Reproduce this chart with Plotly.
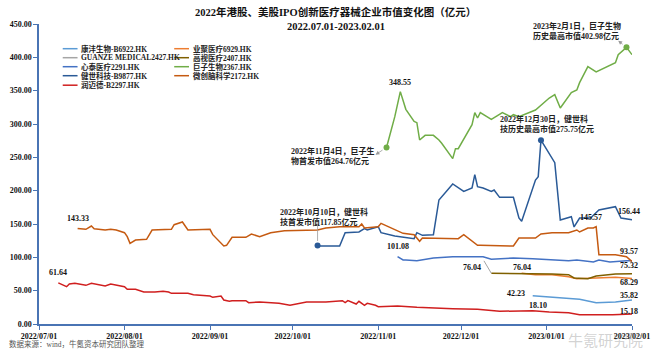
import plotly.graph_objects as go

# ---------------- data ----------------
names = ["康沣生物-B6922.HK", "业聚医疗6929.HK", "GUANZE MEDICAL2427.HK", "高视医疗2407.HK",
         "心泰医疗2291.HK", "巨子生物2367.HK", "健世科技-B9877.HK", "微创脑科学2172.HK", "润迈德-B2297.HK"]
colors = ["#5B9BD5", "#ED7D31", "#A5A5A5", "#7F6000", "#4472C4", "#70AD47", "#2A5A97", "#C55A11", "#D01F1F"]

kangfeng = [("2022-12-27", 42.23), ("2023-01-03", 40), ("2023-01-09", 38), ("2023-01-13", 37),
            ("2023-01-19", 32), ("2023-01-26", 33), ("2023-02-01", 35.82)]
yeju = [("2022-12-23", 76.04), ("2022-12-28", 74), ("2023-01-03", 74), ("2023-01-09", 71),
        ("2023-01-12", 68), ("2023-01-19", 69), ("2023-01-26", 70), ("2023-02-01", 68.29)]
guanze = []
gaoshi = [("2022-12-12", 76.04), ("2022-12-15", 76), ("2022-12-20", 76), ("2022-12-27", 76),
          ("2023-01-03", 75), ("2023-01-09", 74), ("2023-01-11", 69), ("2023-01-16", 68),
          ("2023-01-19", 72), ("2023-01-26", 75), ("2023-02-01", 75.32)]
xintai = [("2022-11-08", 101.08), ("2022-11-10", 96), ("2022-11-11", 96), ("2022-11-15", 95),
          ("2022-11-21", 99), ("2022-11-28", 101), ("2022-12-02", 101), ("2022-12-09", 101),
          ("2022-12-12", 97), ("2022-12-15", 98), ("2022-12-20", 99), ("2022-12-27", 98),
          ("2023-01-03", 96), ("2023-01-09", 95), ("2023-01-12", 96), ("2023-01-18", 93),
          ("2023-01-20", 96), ("2023-01-24", 93), ("2023-01-30", 95), ("2023-02-01", 95)]
juzi = [("2022-11-04", 264.76), ("2022-11-07", 311), ("2022-11-09", 348.55), ("2022-11-10", 336),
        ("2022-11-11", 322), ("2022-11-14", 304), ("2022-11-15", 302), ("2022-11-16", 276),
        ("2022-11-18", 283), ("2022-11-21", 283), ("2022-11-23", 276), ("2022-11-24", 271),
        ("2022-11-28", 248), ("2022-11-29", 263), ("2022-11-30", 263), ("2022-12-05", 299),
        ("2022-12-06", 317), ("2022-12-07", 309), ("2022-12-08", 317), ("2022-12-12", 307),
        ("2022-12-16", 317), ("2022-12-19", 311), ("2022-12-20", 314), ("2022-12-22", 311),
        ("2022-12-28", 321), ("2023-01-02", 339), ("2023-01-04", 344), ("2023-01-06", 324),
        ("2023-01-10", 347), ("2023-01-12", 351), ("2023-01-13", 362), ("2023-01-16", 386),
        ("2023-01-19", 378), ("2023-01-26", 392), ("2023-01-27", 404), ("2023-01-30", 415),
        ("2023-02-01", 404)]
jianshi = [("2022-10-10", 117.85), ("2022-10-11", 117), ("2022-10-18", 117), ("2022-10-20", 137),
           ("2022-10-25", 138), ("2022-10-27", 143), ("2022-10-28", 141), ("2022-11-01", 146),
           ("2022-11-02", 137), ("2022-11-07", 132), ("2022-11-14", 128), ("2022-11-15", 137),
           ("2022-11-17", 133), ("2022-11-21", 134), ("2022-11-23", 186), ("2022-11-28", 210),
           ("2022-12-02", 199), ("2022-12-05", 204), ("2022-12-06", 224), ("2022-12-07", 206),
           ("2022-12-09", 204), ("2022-12-12", 199), ("2022-12-13", 201), ("2022-12-15", 190),
           ("2022-12-20", 190), ("2022-12-22", 159), ("2022-12-23", 154), ("2022-12-28", 216),
           ("2022-12-29", 221), ("2022-12-30", 275.75), ("2023-01-04", 242), ("2023-01-06", 156),
           ("2023-01-10", 161), ("2023-01-11", 145.57), ("2023-01-13", 159), ("2023-01-17", 159),
           ("2023-01-20", 171), ("2023-01-26", 176), ("2023-01-28", 159), ("2023-02-01", 156.44)]
weichuang = [("2022-07-15", 143.33), ("2022-07-18", 142), ("2022-07-20", 147), ("2022-07-21", 143),
             ("2022-07-25", 141), ("2022-07-27", 142), ("2022-07-29", 141), ("2022-08-01", 137),
             ("2022-08-02", 131), ("2022-08-03", 121), ("2022-08-05", 126), ("2022-08-09", 127),
             ("2022-08-11", 141), ("2022-08-17", 141), ("2022-08-18", 142), ("2022-08-19", 149),
             ("2022-08-22", 153), ("2022-08-24", 141), ("2022-09-01", 142), ("2022-09-02", 134),
             ("2022-09-06", 117), ("2022-09-07", 118), ("2022-09-09", 130), ("2022-09-14", 130),
             ("2022-09-16", 135), ("2022-09-19", 131), ("2022-09-23", 137), ("2022-09-28", 140),
             ("2022-10-10", 141), ("2022-10-13", 144), ("2022-10-18", 146), ("2022-10-25", 146),
             ("2022-10-26", 150), ("2022-10-27", 144), ("2022-11-01", 146), ("2022-11-02", 151),
             ("2022-11-07", 141), ("2022-11-10", 136), ("2022-11-14", 134), ("2022-11-16", 124),
             ("2022-11-17", 129), ("2022-11-30", 128), ("2022-12-02", 134), ("2022-12-07", 118),
             ("2022-12-08", 118), ("2022-12-20", 117), ("2022-12-22", 129), ("2022-12-28", 129),
             ("2022-12-30", 135), ("2023-01-03", 137), ("2023-01-09", 137), ("2023-01-12", 141),
             ("2023-01-13", 138), ("2023-01-16", 144), ("2023-01-18", 144), ("2023-01-19", 146),
             ("2023-01-20", 104), ("2023-01-26", 104), ("2023-01-30", 101), ("2023-02-01", 93.57)]
runmaide = [("2022-07-08", 61.64), ("2022-07-11", 56), ("2022-07-12", 60), ("2022-07-14", 61),
            ("2022-07-18", 58), ("2022-07-20", 61), ("2022-07-25", 57), ("2022-07-27", 60),
            ("2022-08-01", 56), ("2022-08-02", 52), ("2022-08-05", 52), ("2022-08-08", 48),
            ("2022-08-12", 48), ("2022-08-15", 49), ("2022-08-17", 48), ("2022-08-18", 46),
            ("2022-08-24", 46), ("2022-08-26", 44), ("2022-09-01", 42), ("2022-09-02", 40),
            ("2022-09-05", 42), ("2022-09-06", 36), ("2022-09-08", 34), ("2022-09-09", 35),
            ("2022-09-14", 35), ("2022-09-15", 32), ("2022-09-19", 33), ("2022-09-26", 31),
            ("2022-09-30", 28), ("2022-10-06", 33), ("2022-10-13", 33), ("2022-10-19", 35),
            ("2022-10-20", 32), ("2022-10-21", 35), ("2022-10-24", 30), ("2022-10-25", 34),
            ("2022-10-27", 28), ("2022-10-28", 31), ("2022-10-31", 28), ("2022-11-01", 26),
            ("2022-11-08", 27), ("2022-11-15", 25), ("2022-11-28", 23), ("2022-12-07", 22),
            ("2022-12-15", 19), ("2022-12-27", 20), ("2023-01-02", 18.10), ("2023-01-09", 17),
            ("2023-01-13", 14), ("2023-01-25", 14), ("2023-02-01", 15.18)]

series = [kangfeng, yeju, guanze, gaoshi, xintai, juzi, jianshi, weichuang, runmaide]

tick_dates = ["2022-07-01", "2022-08-01", "2022-09-01", "2022-10-01", "2022-11-01",
              "2022-12-01", "2023-01-01", "2023-02-01"]
tick_text = ["2022/07/01", "2022/08/01", "2022/09/01", "2022/10/01", "2022/11/01",
             "2022/12/01", "2023/01/01", "2023/02/01"]

# data labels: (date, value, text)
value_labels = [("2022-07-08", 77, "61.64"), ("2022-07-15", 158, "143.33"),
                ("2022-11-09", 363, "348.55"), ("2022-11-08", 116, "101.08"),
                ("2022-12-05", 84.5, "76.04"), ("2022-12-23", 84.5, "76.04"),
                ("2022-12-21", 45.5, "42.23"), ("2022-12-29", 27.5, "18.10"),
                ("2023-01-17", 159.5, "145.57"), ("2023-01-31", 168.5, "156.44"),
                ("2023-01-31", 108.5, "93.57"), ("2023-01-31", 87.5, "75.32"),
                ("2023-01-31", 62, "68.29"), ("2023-01-31", 42.5, "35.82"),
                ("2023-01-31", 18.5, "15.18")]

title_lines = ["2022年港股、美股IPO创新医疗器械企业市值变化图（亿元）", "2022.07.01-2023.02.01"]

FONT = "Liberation Serif, Times New Roman, Noto Sans CJK SC, serif"
AXC = "#4A74B4"

fig = go.Figure()
for name, col, s in zip(names, colors, series):
    xs = [d for d, v in s] if s else [None]
    ys = [v for d, v in s] if s else [None]
    fig.add_trace(go.Scatter(x=xs, y=ys, mode="lines", name=name,
                             line=dict(color=col, width=1.5), showlegend=False))

# highlighted points
marks = [(juzi[0], colors[5]), (juzi[-2], colors[5]), (jianshi[0], colors[6]), (jianshi[29], colors[6])]
fig.add_trace(go.Scatter(x=[m[0][0] for m in marks], y=[m[0][1] for m in marks], mode="markers",
                         marker=dict(size=6, color=[m[1] for m in marks]), showlegend=False))

ann = []
for d, v, t in value_labels:
    ann.append(dict(x=d, y=v, xref="x", yref="y", text=t, showarrow=False,
                    font=dict(size=8, color="#111", family=FONT, weight="bold")))

big = [(0.4216, 252, "2022年11月4日，巨子生<br>物首发市值264.76亿元"),
       (0.4036, 161, "2022年10月10日，健世科<br>技首发市值117.85亿元"),
       (0.7745, 300, "2022年12月30日，健世科<br>技历史最高市值275.75亿元"),
       (0.830, 440, "2023年2月1日，巨子生物<br>历史最高市值402.98亿元")]
for px, v, t in big:
    ann.append(dict(x=px, y=v, xref="paper", yref="y", text=t, showarrow=False, align="left",
                    xanchor="left", yanchor="middle",
                    font=dict(size=8, color="#222", family=FONT, weight="bold")))

# connector lines
ann.append(dict(x="2022-10-31", y=254, xref="x", yref="y", ax=juzi[0][0], ay=juzi[0][1],
                axref="x", ayref="y", text="", showarrow=True, arrowhead=2, arrowsize=1,
                arrowwidth=0.8, arrowcolor="#9A9A9A", standoff=0, startstandoff=3))
ann.append(dict(x="2023-01-27", y=425, xref="x", yref="y", ax=juzi[-2][0], ay=juzi[-2][1],
                axref="x", ayref="y", text="", showarrow=True, arrowhead=2, arrowsize=1,
                arrowwidth=0.8, arrowcolor="#9A9A9A", standoff=0, startstandoff=3))
ann.append(dict(x=jianshi[0][0], y=150, xref="x", yref="y", ax=jianshi[0][0], ay=jianshi[0][1],
                axref="x", ayref="y", text="", showarrow=True, arrowhead=0,
                arrowwidth=0.8, arrowcolor="#9A9A9A", standoff=0, startstandoff=3))
ann.append(dict(x=gaoshi[0][0], y=gaoshi[0][1], xref="x", yref="y", ax="2022-12-09", ay=97,
                axref="x", ayref="y", text="", showarrow=True, arrowhead=0,
                arrowwidth=1, arrowcolor="#A5A5A5", standoff=0))

# title (two lines)
for t, ypx in zip(title_lines, [12, 27]):
    ann.append(dict(x=0.5, y=(324.3 - ypx) / 300, xref="paper", yref="paper", text="<b>" + t + "</b>",
                    showarrow=False, xanchor="center", yanchor="middle",
                    font=dict(size=10.5, color="#111", family=FONT)))

# legend (two columns, compact like the original)
shapes = []
left_idx = [0, 2, 4, 6, 8]
right_idx = [1, 3, 5, 7]
row_px = [49, 58, 67, 76, 85.5]
for col_items, x0, x1, xt in [(left_idx, 0.040, 0.065, 0.068), (right_idx, 0.228, 0.253, 0.256)]:
    for r, i in enumerate(col_items):
        yp = (324.3 - row_px[r]) / 300
        shapes.append(dict(type="line", xref="paper", yref="paper", x0=x0, x1=x1, y0=yp, y1=yp,
                           line=dict(color=colors[i], width=1.5)))
        ann.append(dict(x=xt, y=yp, xref="paper", yref="paper", text=names[i], showarrow=False,
                        xanchor="left", yanchor="middle",
                        font=dict(size=7.5, color="#222", family=FONT, weight="bold")))

ann.append(dict(x=-0.054, y=-0.067, xref="paper", yref="paper", text="数据来源：wind，牛氪资本研究团队整理",
                showarrow=False, xanchor="left", yanchor="middle",
                font=dict(size=7.5, color="#555", family=FONT)))
ann.append(dict(x=0.955, y=-0.05, xref="paper", yref="paper", text="牛氪研究院",
                showarrow=False, xanchor="center", yanchor="middle",
                font=dict(size=15, color="rgba(140,140,140,0.4)", family="Noto Sans CJK SC")))

fig.update_layout(
    width=660, height=353,
    margin=dict(l=38, r=10, t=24, b=29),
    paper_bgcolor="white", plot_bgcolor="white",
    font=dict(family=FONT, color="#222"),
    annotations=ann, shapes=shapes, showlegend=False,
)
fig.update_xaxes(type="date", range=["2022-07-01", "2023-02-01"], tickvals=tick_dates,
                 ticktext=tick_text, showgrid=False, showline=True, linecolor=AXC, linewidth=1.5,
                 ticks="outside", ticklen=4, tickcolor=AXC, ticklabeloverflow="allow",
                 tickfont=dict(size=8, family=FONT, color="#111", weight="bold"))
fig.update_yaxes(range=[0, 450], dtick=50, tickformat=".2f", showgrid=False, zeroline=False,
                 showline=True, linecolor=AXC, linewidth=1.5, ticks="outside", ticklen=4, tickcolor=AXC,
                 tickfont=dict(size=8, family=FONT, color="#111", weight="bold"))

fig.write_html("out.html")
